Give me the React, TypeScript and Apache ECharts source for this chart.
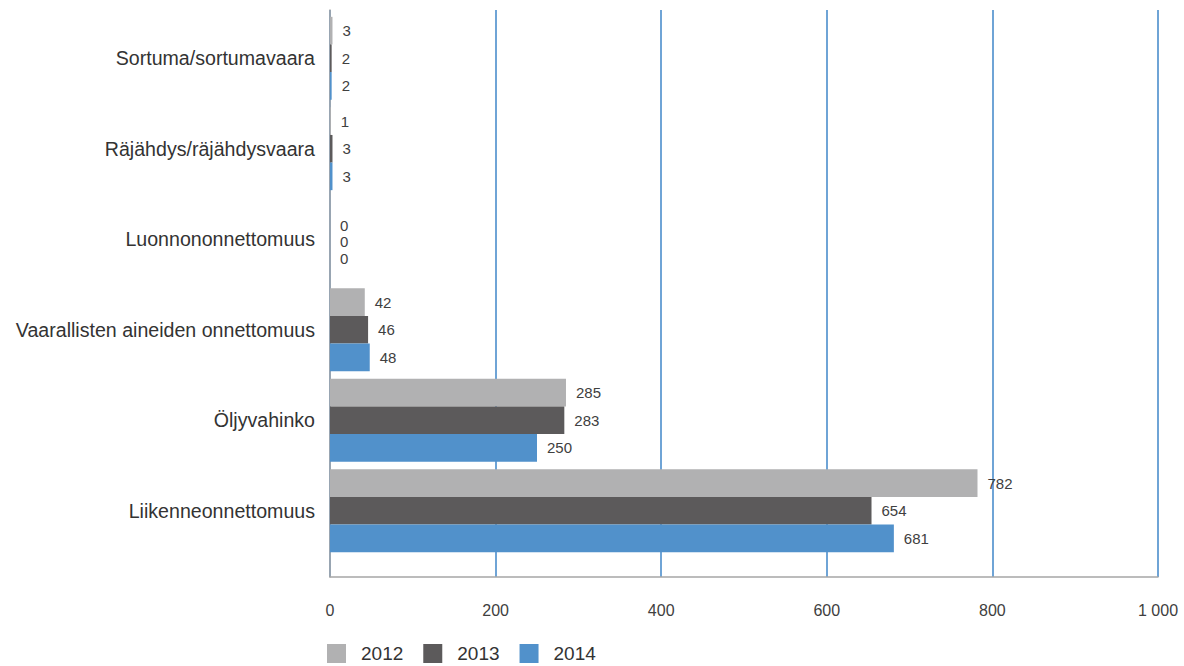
import React, { useEffect, useRef } from "react";
import * as echarts from "echarts";

const categories = [
  "Sortuma/sortumavaara",
  "Räjähdys/räjähdysvaara",
  "Luonnononnettomuus",
  "Vaarallisten aineiden onnettomuus",
  "Öljyvahinko",
  "Liikenneonnettomuus",
];
const years = ["2012", "2013", "2014"];
const values2012 = [3, 1, 0, 42, 285, 782];
const values2013 = [2, 3, 0, 46, 283, 654];
const values2014 = [2, 3, 0, 48, 250, 681];
const xTicks = [0, 200, 400, 600, 800, 1000];
const colors = ["#b1b1b2", "#5c5a5b", "#5191cb"];
// vertical nudges of the zero-value labels (as in the reference, to avoid overlap)
const zeroLabelOffsets = [14, 2, -8];

const FONT = "'Liberation Sans', Arial, sans-serif";

export default function App() {
  const ref = useRef<HTMLDivElement>(null);
  useEffect(() => {
    if (!ref.current) return;
    const chart = echarts.init(ref.current, undefined, { renderer: "svg" });
    const seriesData = [values2012, values2013, values2014];
    const fmt = (v: number) => String(v).replace(/\B(?=(\d{3})+(?!\d))/g, " ");
    chart.setOption({
      animation: false,
      color: colors,
      textStyle: { fontFamily: FONT },
      legend: {
        data: years,
        left: 322,
        top: 639,
        itemWidth: 19,
        itemHeight: 19,
        itemGap: 20,
        icon: "rect",
        textStyle: {
          fontFamily: FONT,
          fontSize: 19,
          lineHeight: 19,
          color: "#333333",
          padding: [0, 0, 0, 10],
        },
      },
      grid: [
        { left: 330, right: 26, top: 13, height: 543, containLabel: false },
        { left: 330, right: 26, top: 10, bottom: 89, containLabel: false },
      ],
      xAxis: [
        {
          gridIndex: 0,
          type: "value",
          min: 0,
          max: 1000,
          interval: 200,
          show: false,
        },
        {
          gridIndex: 1,
          type: "value",
          min: xTicks[0],
          max: xTicks[xTicks.length - 1],
          interval: 200,
          axisLine: { show: true, lineStyle: { color: "#a6a6a6", width: 1.5 } },
          axisTick: { show: false },
          axisLabel: {
            margin: 25,
            fontSize: 16,
            fontFamily: FONT,
            color: "#404040",
            formatter: (v: number) => fmt(v),
          },
          splitLine: { show: true, lineStyle: { color: "#3f86c8", width: 1.5 } },
        },
      ],
      yAxis: [
        {
          gridIndex: 0,
          type: "category",
          inverse: true,
          data: categories,
          axisLine: { show: false },
          axisTick: { show: false },
          axisLabel: { margin: 15, fontSize: 19.6, fontFamily: FONT, color: "#333333" },
        },
        {
          gridIndex: 1,
          type: "category",
          data: [""],
          axisLine: { show: true, lineStyle: { color: "#a6a6a6", width: 1.5 } },
          axisTick: { show: false },
          axisLabel: { show: false },
        },
      ],
      series: years.map((y, i) => ({
        name: y,
        type: "bar",
        xAxisIndex: 0,
        yAxisIndex: 0,
        data: seriesData[i].map((v) =>
          v === 0
            ? { value: v, label: { offset: [0, zeroLabelOffsets[i]] } }
            : v
        ),
        barGap: "0%",
        barCategoryGap: "8.5%",
        label: {
          show: true,
          position: "right",
          distance: 10,
          fontSize: 15,
          fontFamily: FONT,
          color: "#404040",
        },
      })),
    });
    return () => chart.dispose();
  }, []);
  return <div ref={ref} style={{ width: 1184, height: 666, position: "absolute", left: 0, top: 0 }} />;
}
